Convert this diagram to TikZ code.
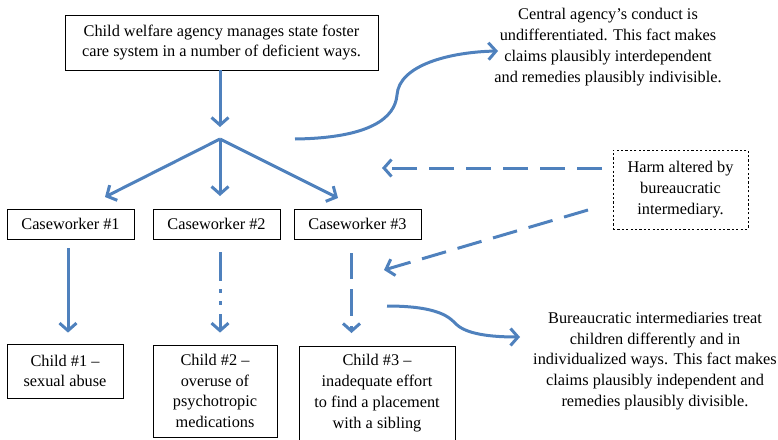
\documentclass[tikz,border=0pt]{standalone}
\usepackage{fontspec}
\setmainfont{Liberation Serif}
\usetikzlibrary{arrows.meta}
\definecolor{arrowblue}{HTML}{4F81BD}
\begin{document}
\begin{tikzpicture}[x=1pt,y=-1pt,
  box/.style={draw=black, line width=0.8pt, inner sep=0pt, align=center, font=\fontsize{16.3}{20.8}\selectfont},
  plain/.style={inner sep=0pt, align=center, font=\fontsize{16.3}{20.8}\selectfont},
  bluearrow/.style={draw=arrowblue, line width=3pt, -{Straight Barb[length=7.5pt,width=17pt]}},
  dashes/.style={dash pattern=on 25pt off 12pt}
]
\useasboundingbox (0,0) rectangle (778,439);

% top box
\node[box, minimum width=313pt, minimum height=55pt] (top) at (221.5,42.5)
  {Child welfare agency manages state foster\\care system in a number of deficient ways.};

% caseworkers
\node[box, minimum width=127pt, minimum height=30pt] (cw1) at (70.5,224) {Caseworker \#1};
\node[box, minimum width=127pt, minimum height=30pt] (cw2) at (216.5,224) {Caseworker \#2};
\node[box, minimum width=127pt, minimum height=30pt] (cw3) at (357.5,224) {Caseworker \#3};

% children
\node[box, minimum width=116pt, minimum height=54pt] (ch1) at (65,371) {Child \#1 --\\sexual abuse};
\node[box, minimum width=124pt, minimum height=92pt] (ch2) at (215,391) {Child \#2 --\\overuse of\\psychotropic\\medications};
\node[box, minimum width=156pt, minimum height=96pt, anchor=north] (ch3) at (377,346) {};
\node[plain] (ch3t) at (377,393) {Child \#3 --\\inadequate effort\\to find a placement\\with a sibling};

% right side texts
\node[plain] (central) at (608,47) {Central agency's conduct is\\undifferentiated. This fact makes\\claims plausibly interdependent\\and remedies plausibly indivisible.};
\node[box, dash pattern=on 2.2pt off 2.2pt, minimum width=135pt, minimum height=79pt] (harm) at (680.5,189.5) {Harm altered by\\bureaucratic\\intermediary.};
\node[plain] (bureau) at (655,361) {Bureaucratic intermediaries treat\\children differently and in\\individualized ways. This fact makes\\claims plausibly independent and\\remedies plausibly divisible.};

% junction
\coordinate (j) at (220,139);
\coordinate (t1) at (105,197);
\coordinate (t2) at (220,196);
\coordinate (t3) at (338,198);

\draw[bluearrow] ([xshift=-1.5pt]top.south) -- ([yshift=12pt]j);
\draw[bluearrow] (j) -- (t1);
\draw[bluearrow] (j) -- (t2);
\draw[bluearrow] (j) -- (t3);

% caseworker to child
\draw[bluearrow] ([xshift=-2.5pt,yshift=-9pt]cw1.south) -- ([xshift=3pt,yshift=11pt]ch1.north);
\draw[bluearrow, dash pattern=on 29pt off 8pt on 4pt off 8pt on 4pt off 9pt on 40pt]
  ([xshift=3.5pt,yshift=-13pt]cw2.south) -- ([xshift=5pt,yshift=12pt]ch2.north);
\draw[bluearrow, dash pattern=on 26pt off 10pt on 27pt off 10pt on 30pt]
  ([xshift=-6pt,yshift=-14pt]cw3.south) -- ([xshift=-25.5pt,yshift=13pt]ch3.north);

% harm arrows
\coordinate (h1s) at (602,168);
\coordinate (h1e) at (382,168);
\coordinate (h2s) at (588,210);
\coordinate (h2e) at (384,270);
\draw[bluearrow, dashes] (h1s) -- (h1e);
\draw[bluearrow, dashes] (h2s) -- (h2e);

% curved arrows
\coordinate (c1s) at (295,139);
\coordinate (c1e) at (498,51);
\draw[bluearrow] (c1s) .. controls (370,138) and (395,118) .. (397,95)
  .. controls (399,65) and (450,52) .. (c1e);
\coordinate (c2s) at (387,306);
\coordinate (c2e) at (520,337);
\draw[bluearrow] (c2s) .. controls (440,306) and (450,318) .. (456,324)
  .. controls (466,334) and (490,337) .. (c2e);
\end{tikzpicture}
\end{document}
